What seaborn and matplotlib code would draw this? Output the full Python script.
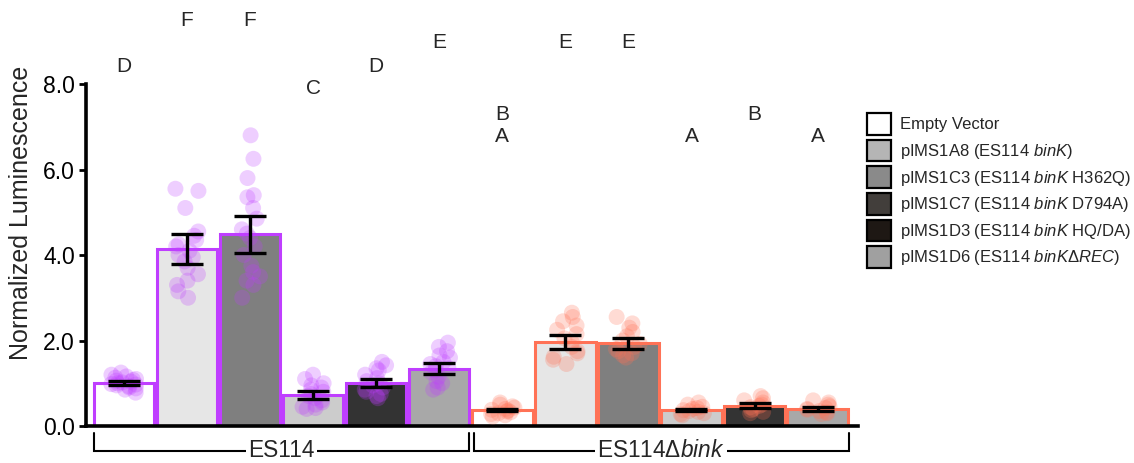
import numpy as np
import pandas as pd
import matplotlib
matplotlib.use("Agg")
import matplotlib.pyplot as plt
import seaborn as sns
from matplotlib.patches import Patch

# ---------------- data ----------------
plasmids = ["Empty Vector", "pIMS1A8", "pIMS1C3", "pIMS1C7", "pIMS1D3", "pIMS1D6"]
strain_names = ["ES114", "ES114Δbink"]
conditions = [f"{s} {p}" for s in strain_names for p in plasmids]
strains = [s for s in strain_names for _ in plasmids]

means = [1.00, 4.14, 4.48, 0.72, 1.01, 1.34,
         0.37, 1.96, 1.93, 0.37, 0.475, 0.40]
sems = [0.05, 0.35, 0.44, 0.10, 0.10, 0.125,
        0.03, 0.16, 0.12, 0.03, 0.06, 0.05]

pts_es_ev = [0.78, 0.85, 0.88, 0.90, 0.93, 0.95, 0.97, 0.98, 1.00, 1.02, 1.04, 1.06, 1.08, 1.10, 1.13, 1.16, 1.20, 1.25]
pts_es_1a8 = [5.55, 5.50, 5.10, 4.55, 4.45, 4.35, 4.25, 4.20, 4.10, 4.00, 3.95, 3.85, 3.70, 3.55, 3.40, 3.30, 3.15, 3.00]
pts_es_1c3 = [6.80, 6.25, 5.80, 5.40, 5.35, 5.10, 4.85, 4.60, 4.50, 4.40, 4.20, 4.00, 3.75, 3.60, 3.50, 3.40, 3.30, 3.00]
pts_es_1c7 = [1.20, 1.10, 1.00, 0.95, 0.90, 0.85, 0.80, 0.75, 0.70, 0.65, 0.60, 0.55, 0.50, 0.45, 0.42, 0.40]
pts_es_1d3 = [1.50, 1.42, 1.35, 1.30, 1.20, 1.12, 1.05, 1.00, 0.95, 0.90, 0.85, 0.80, 0.75, 0.70, 0.65]
pts_es_1d6 = [1.95, 1.85, 1.75, 1.65, 1.60, 1.50, 1.45, 1.40, 1.35, 1.30, 1.25, 1.15, 1.05, 1.00, 0.90, 0.85]
pts_dk_ev = [0.55, 0.50, 0.46, 0.43, 0.40, 0.38, 0.36, 0.34, 0.32, 0.30, 0.28, 0.25, 0.22]
pts_dk_1a8 = [2.65, 2.55, 2.45, 2.35, 2.25, 2.15, 2.05, 1.95, 1.85, 1.75, 1.70, 1.62, 1.55, 1.45]
pts_dk_1c3 = [2.55, 2.40, 2.30, 2.20, 2.10, 2.00, 1.92, 1.85, 1.80, 1.75, 1.70, 1.65, 1.60]
pts_dk_1c7 = [0.55, 0.50, 0.45, 0.42, 0.40, 0.37, 0.35, 0.33, 0.30, 0.28, 0.25]
pts_dk_1d3 = [0.70, 0.65, 0.60, 0.55, 0.50, 0.47, 0.44, 0.40, 0.37, 0.33, 0.30]
pts_dk_1d6 = [0.60, 0.55, 0.50, 0.46, 0.42, 0.40, 0.38, 0.35, 0.32, 0.30, 0.28]
points = [pts_es_ev, pts_es_1a8, pts_es_1c3, pts_es_1c7, pts_es_1d3, pts_es_1d6,
          pts_dk_ev, pts_dk_1a8, pts_dk_1c3, pts_dk_1c7, pts_dk_1d3, pts_dk_1d6]

letter_bar = [0, 1, 2, 3, 4, 5, 6, 6, 7, 8, 9, 10, 11]
letter_text = ["D", "F", "F", "C", "D", "E", "B", "A", "E", "E", "A", "B", "A"]
letter_y = [8.41, 9.48, 9.48, 7.89, 8.41, 8.97, 7.28, 6.77, 8.97, 8.97, 6.77, 7.28, 6.77]

legend_labels = ["Empty Vector",
                 "pIMS1A8 (ES114 $\\mathit{binK}$)",
                 "pIMS1C3 (ES114 $\\mathit{binK}$ H362Q)",
                 "pIMS1C7 (ES114 $\\mathit{binK}$ D794A)",
                 "pIMS1D3 (ES114 $\\mathit{binK}$ HQ/DA)",
                 "pIMS1D6 (ES114 $\\mathit{binKΔREC}$)"]
legend_colors = ["#FFFFFF", "#B5B5B5", "#8A8A8A", "#423E3B", "#1E1814", "#A0A0A0"]

group_labels = ["ES114", "ES114$\\mathit{Δbink}$"]

# ---------------- style ----------------
bar_fills = ["#FFFFFF", "#E6E6E6", "#7F7F7F", "#CCCCCC", "#333333", "#A8A8A8"] * 2
strain_colors = {"ES114": "#BF3EFF", "ES114Δbink": "#FF7256"}

sns.set_style("white")
plt.rcParams["font.family"] = ["Liberation Sans", "DejaVu Sans"]
plt.rcParams["mathtext.fontset"] = "custom"
plt.rcParams["mathtext.rm"] = "Liberation Sans"
plt.rcParams["mathtext.it"] = "Liberation Sans:italic"
plt.rcParams["mathtext.bf"] = "Liberation Sans:bold"

fig = plt.figure(figsize=(11.34, 4.63), dpi=100)
ax = fig.add_axes([86 / 1134, 37 / 463, 772 / 1134, 426 / 463])

df_bars = pd.DataFrame({"cond": conditions, "mean": means, "strain": strains})
sns.barplot(data=df_bars, x="cond", y="mean", hue="cond", order=conditions,
            hue_order=conditions, palette=dict(zip(conditions, bar_fills)),
            legend=False, width=0.96, errorbar=None, linewidth=2, ax=ax)
for p in ax.patches:
    idx = int(round(p.get_x() + p.get_width() / 2))
    p.set_edgecolor(strain_colors[strains[idx]])
    p.set_linewidth(2.2)
    p.set_zorder(1)

rows = []
for c, s, vals in zip(conditions, strains, points):
    for v in vals:
        rows.append((c, s, v))
df_pts = pd.DataFrame(rows, columns=["cond", "strain", "value"])
np.random.seed(4)
sns.stripplot(data=df_pts, x="cond", y="value", hue="strain", order=conditions,
              palette=strain_colors, jitter=0.2, size=11.5, alpha=0.25,
              linewidth=0, legend=False, zorder=3, ax=ax)

ax.errorbar(x=np.arange(len(conditions)), y=means, yerr=sems, fmt="none",
            ecolor="black", elinewidth=2.4, capsize=11.5, capthick=2.4, zorder=5)

for b, t, y in zip(letter_bar, letter_text, letter_y):
    ax.text(b, y, t, ha="center", va="center", fontsize=15, clip_on=False)

# axes styling
ax.set_xlim(-0.6, 11.64)
ax.set_ylim(0, 9.965)
ax.set_xticks([])
ax.set_xlabel("")
ax.set_yticks([0, 2, 4, 6, 8])
ax.set_yticklabels(["0.0", "2.0", "4.0", "6.0", "8.0"])
ax.tick_params(axis="y", labelsize=16.5, length=5, width=2, direction="out",
               pad=3, left=True, colors="black")
ax.set_ylabel("Normalized Luminescence", fontsize=18, labelpad=7)
for s in ["top", "right"]:
    ax.spines[s].set_visible(False)
ax.spines["left"].set_bounds(0, 8)
ax.spines["left"].set_linewidth(2.6)
ax.spines["bottom"].set_linewidth(2.6)
ax.spines["left"].set_color("black")
ax.spines["bottom"].set_color("black")

# group brackets
brackets = [(-0.475, 5.47), (5.55, 11.49)]
y_top, y_bot = -0.164, -0.585
for (x0, x1), lab in zip(brackets, group_labels):
    ax.plot([x0, x0, x1, x1], [y_top, y_bot, y_bot, y_top], color="black",
            lw=1.5, clip_on=False, solid_joinstyle="miter")
    ax.text((x0 + x1) / 2, y_bot + 0.02, lab, ha="center", va="center",
            fontsize=16.3, clip_on=False,
            bbox=dict(fc="white", ec="none", pad=1.5))

handles = [Patch(facecolor=c, edgecolor="black", linewidth=1.6) for c in legend_colors]
fig.legend(handles, legend_labels, loc="upper left",
           bbox_to_anchor=(867 / 1134, 1 - 113 / 463), frameon=False,
           fontsize=12, handlelength=1.45, handleheight=1.62,
           labelspacing=0.3, handletextpad=0.5, borderpad=0, borderaxespad=0)

fig.savefig("out.png", dpi=100)
